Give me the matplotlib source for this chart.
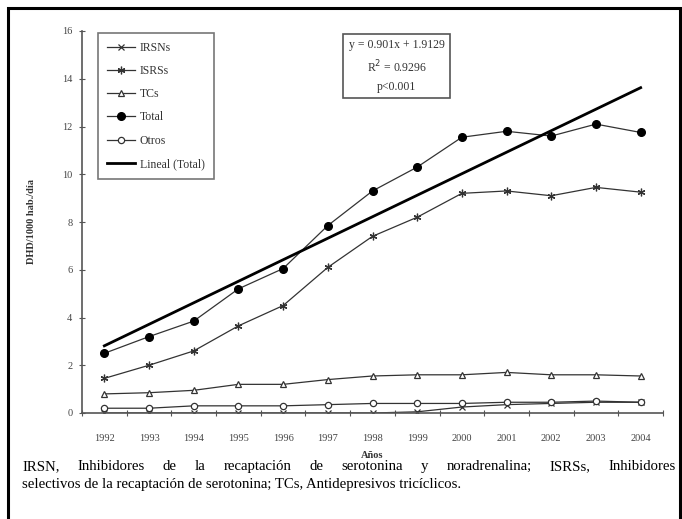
import matplotlib.pyplot as plt
from matplotlib.patches import Rectangle

years = ['1992', '1993', '1994', '1995', '1996', '1997', '1998',
         '1999', '2000', '2001', '2002', '2003', '2004']
irsn = [0.0, 0.0, 0.0, 0.0, 0.0, 0.0, 0.0, 0.05, 0.25, 0.35, 0.4, 0.45, 0.45]
isrs = [1.45, 2.0, 2.6, 3.65, 4.5, 6.1, 7.4, 8.2, 9.2, 9.3, 9.1, 9.45, 9.25]
tcs = [0.8, 0.85, 0.95, 1.2, 1.2, 1.4, 1.55, 1.6, 1.6, 1.7, 1.6, 1.6, 1.55]
total = [2.5, 3.2, 3.85, 5.2, 6.05, 7.85, 9.3, 10.3, 11.55, 11.8, 11.6, 12.1, 11.75]
otros = [0.2, 0.2, 0.3, 0.3, 0.3, 0.35, 0.4, 0.4, 0.4, 0.45, 0.45, 0.5, 0.45]
slope, intercept = 0.901, 1.9129

caption1 = ("IRSN, Inhibidores de la recaptación de serotonina y noradrenalina; "
            "ISRSs, Inhibidores")
caption2 = "selectivos de la recaptación de serotonina; TCs, Antidepresivos tricíclicos."

plt.rcParams['font.family'] = ['Liberation Serif', 'DejaVu Serif']

W, H = 682, 519
fig = plt.figure(figsize=(W / 100, H / 100), dpi=100)

# outer frame
fig.patches.append(Rectangle((8 / W, -0.01), 672 / W, 1 - 8 / H + 0.01,
                             transform=fig.transFigure, fill=False,
                             lw=2.2, ec='black'))

ax = fig.add_axes([82 / W, 1 - 413 / H, 581 / W, 382 / H])
x = list(range(1, len(years) + 1))
lc = '#333333'

ax.plot(x, irsn, color=lc, lw=0.9, marker='x', ms=4, mew=0.9, label='IRSNs')
ax.plot(x, isrs, color=lc, lw=0.9, marker=(6, 2, 0), ms=5.5, mew=0.9, label='ISRSs')
ax.plot(x, tcs, color=lc, lw=0.9, marker='^', ms=5, mfc='white', mew=0.9, label='TCs')
ax.plot(x, total, color=lc, lw=0.9, marker='o', ms=5.5, mfc='black', mec='black', label='Total')
ax.plot(x, otros, color=lc, lw=0.9, marker='o', ms=4.5, mfc='white', mew=0.9, label='Otros')
trend = [slope * v + intercept for v in x]
ax.plot(x, trend, color='black', lw=2, label='Lineal (Total)')

ax.set_xlim(0.5, len(years) + 0.5)
ax.set_ylim(0, 16)
ax.set_yticks(range(0, 17, 2))
ax.set_xticks([v + 0.5 for v in range(0, len(years) + 1)])
ax.set_xticklabels([])
ax.set_xticks(x, minor=True)
ax.set_xticklabels(years, minor=True)
ax.tick_params(axis='x', which='major', length=4, direction='inout', color='#555555')
ax.tick_params(axis='x', which='minor', length=0, pad=15, labelsize=7.5, labelcolor='#444444')
ax.tick_params(axis='y', length=4, direction='inout', color='#555555',
               labelsize=7.5, labelcolor='#444444', pad=5)
for s in ['top', 'right']:
    ax.spines[s].set_visible(False)
for s in ['left', 'bottom']:
    ax.spines[s].set_color('#555555')
    ax.spines[s].set_linewidth(1.2)

ax.set_xlabel('Años', fontsize=7.5, fontweight='bold', color='#333333', labelpad=6)
ax.set_ylabel('DHD/1000 hab./día', fontsize=7.5, fontweight='bold', color='#333333', labelpad=19)

leg = ax.legend(loc='upper left', bbox_to_anchor=(16 / 581, 1 - 2 / 382),
                fontsize=8.5, frameon=True, fancybox=False, edgecolor='#555555',
                handlelength=2.4, labelspacing=0.95, borderpad=0.75,
                handletextpad=0.4, borderaxespad=0)
leg.get_frame().set_linewidth(1.2)
for t in leg.get_texts():
    t.set_color('#333333')

ax.text((338 + 455) / 2 / W, 1 - 66 / H,
        'y = 0.901x + 1.9129\nR$^2$ = 0.9296\np<0.001',
        transform=fig.transFigure, ha='center', va='center', fontsize=8.5,
        linespacing=1.55, color='#333333',
        bbox=dict(boxstyle='square,pad=0.45', fc='white', ec='#555555', lw=1.2))

# caption, first line justified to the frame width
fig.canvas.draw()
r = fig.canvas.get_renderer()
words = caption1.split(' ')
fs = 10.6
x0, x1 = 22, 676
tmp = [fig.text(0, 0, w, fontsize=fs) for w in words]
widths = [t.get_window_extent(r).width for t in tmp]
for t in tmp:
    t.remove()
gap = (x1 - x0 - sum(widths)) / (len(words) - 1)
pos = x0
for w, wd in zip(words, widths):
    fig.text(pos / W, 1 - 470 / H, w, fontsize=fs, va='baseline', ha='left')
    pos += wd + gap
fig.text(x0 / W, 1 - 488 / H, caption2, fontsize=fs, va='baseline', ha='left')

fig.savefig('out.png', dpi=100)
